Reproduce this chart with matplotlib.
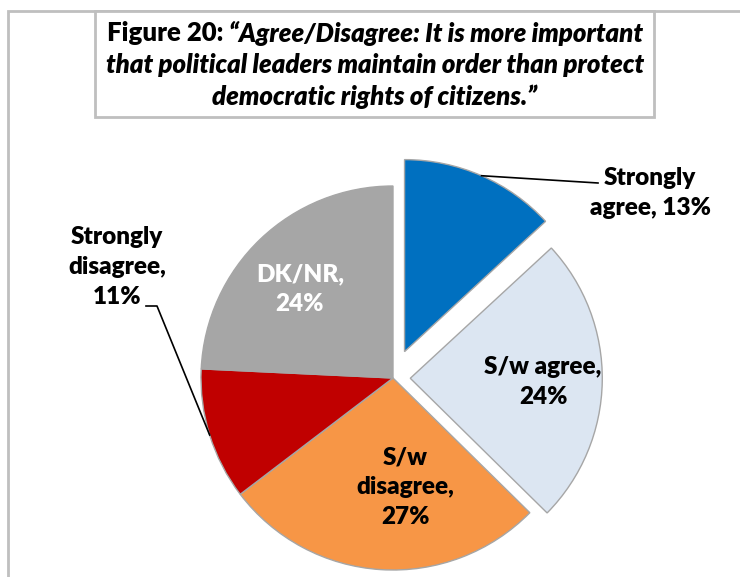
import matplotlib
matplotlib.use("Agg")
import numpy as np
import matplotlib.pyplot as plt
from matplotlib.patches import Rectangle

# Survey responses (%), clockwise from 12 o'clock
categories = ["Strongly agree", "S/w agree", "S/w disagree", "Strongly disagree", "DK/NR"]
values = [13, 24, 27, 11, 24]
colors = ["#0070C0", "#DCE6F2", "#F79646", "#C00000", "#A6A6A6"]
explode = [0.15, 0.09, 0, 0, 0]   # fraction of the radius

title_lead = "Figure 20: "
title_lines = ["\u201cAgree/Disagree: It is more important",
               "that political leaders maintain order than protect",
               "democratic rights of citizens.\u201d"]

plt.rcParams["font.family"] = ["Lato", "DejaVu Sans"]

W, H = 740, 577
fig = plt.figure(figsize=(W / 100, H / 100), dpi=100)
ax = fig.add_axes([0, 0, 1, 1])

# pixel-like coordinates, y measured upward
cx, cy, R = 393, H - 378, 192
wedges, _ = ax.pie(values, colors=colors, explode=[e * R for e in explode],
                   startangle=90, counterclock=False, center=(cx, cy),
                   radius=R, frame=True,
                   wedgeprops=dict(edgecolor="#A6A6A6", linewidth=1.0))
ax.set_xlim(0, W)
ax.set_ylim(0, H)
ax.axis("off")

def arc_mid(w):
    ang = np.deg2rad((w.theta1 + w.theta2) / 2)
    x0, y0 = w.center
    return x0 + w.r * np.cos(ang), y0 + w.r * np.sin(ang)

def label(i):
    if categories[i].startswith("Strongly"):
        first, rest = categories[i].split(" ", 1)
        return f"{first}\n{rest}, {values[i]}%"
    return f"{categories[i]},\n{values[i]}%"

lab_kw = dict(ha="center", va="center", fontsize=17.5, fontweight="heavy",
              linespacing=1.42)

# Strongly agree: outside, with leader line
ax.text(650, H - 193, label(0), color="black", **lab_kw)
x0, y0 = arc_mid(wedges[0])
ax.plot([x0, 598], [y0, H - 183], color="black", lw=1.2)

# S/w agree
ax.text(543, H - 382, label(1), color="black", **lab_kw)

# S/w disagree (three lines)
ax.text(405, H - 487, f"S/w\ndisagree,\n{values[2]}%", color="black", **lab_kw)

# Strongly disagree: outside left, with elbow leader
ax.text(117, H - 267, f"Strongly\ndisagree,\n{values[3]}%", color="black", **lab_kw)
x0, y0 = arc_mid(wedges[3])
ax.plot([x0, 157, 146], [y0, H - 306, H - 306], color="black", lw=1.2)

# DK/NR in white
ax.text(300, H - 289, label(4), color="white", **lab_kw)

# chart area border (runs off the right and bottom)
ax.add_patch(Rectangle((8, -20), W + 40, H - 11 + 20, fill=False,
                       edgecolor="#BFBFBF", lw=2, clip_on=False))

# title box
ax.add_patch(Rectangle((95, H - 117), 654 - 95, 106, facecolor="white",
                       edgecolor="#BFBFBF", lw=2))

tkw = dict(fontsize=18.5, fontweight="heavy", va="center", color="black")
tx = 375
line_y = [33, 65, 97]
fig.canvas.draw()
r = fig.canvas.get_renderer()
t1 = ax.text(0, H - line_y[0], title_lead, ha="left", **tkw)
t2 = ax.text(0, H - line_y[0], title_lines[0], ha="left", style="italic", **tkw)
w1 = t1.get_window_extent(r).width
w2 = t2.get_window_extent(r).width
left = tx - (w1 + w2) / 2
t1.set_x(left)
t2.set_x(left + w1)
for yy, s in zip(line_y[1:], title_lines[1:]):
    ax.text(tx, H - yy, s, ha="center", style="italic", **tkw)

fig.savefig("out.png", dpi=100)
